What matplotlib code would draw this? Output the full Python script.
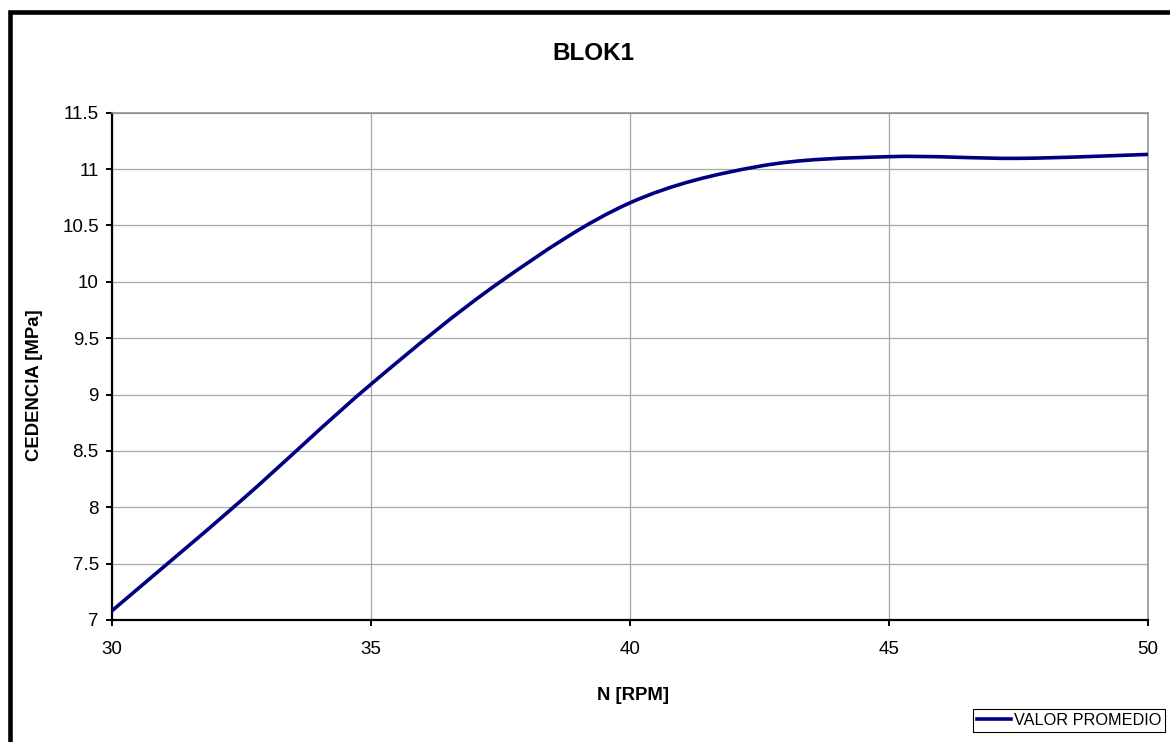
import matplotlib
matplotlib.use('Agg')
import matplotlib.pyplot as plt
import numpy as np
from matplotlib.path import Path
from matplotlib.patches import PathPatch, Rectangle
from matplotlib.lines import Line2D
from matplotlib.ticker import FuncFormatter

plt.rcParams['font.family'] = ['Liberation Sans', 'DejaVu Sans']

# data
rpm = [30, 32.5, 35, 37.5, 40, 42.5, 45, 47.5, 50]
cedencia = [7.08, 8.06, 9.09, 10.0, 10.70, 11.025, 11.11, 11.095, 11.13]
x_ticks = [30, 35, 40, 45, 50]
y_ticks = [7, 7.5, 8, 8.5, 9, 9.5, 10, 10.5, 11, 11.5]
series_name = 'VALOR PROMEDIO'
line_color = '#000080'


def smooth_path(xs, ys):
    # excel style smoothed line: cubic bezier through every point
    pts = np.column_stack([xs, ys]).astype(float)
    n = len(pts)
    verts = [pts[0]]
    codes = [Path.MOVETO]
    for i in range(n - 1):
        p0 = pts[i - 1] if i > 0 else pts[i]
        p3 = pts[i + 2] if i + 2 < n else pts[i + 1]
        c1 = pts[i] + (pts[i + 1] - p0) / 6
        c2 = pts[i + 1] - (p3 - pts[i]) / 6
        verts += [c1, c2, pts[i + 1]]
        codes += [Path.CURVE4] * 3
    return Path(verts, codes)


W, H = 1170, 742
fig = plt.figure(figsize=(W / 100, H / 100), dpi=100)
ax = fig.add_axes([111.7 / W, 1 - 620 / H, (1148 - 111.7) / W, (620 - 112.7) / H])

ax.add_patch(PathPatch(smooth_path(rpm, cedencia), facecolor='none',
                       edgecolor=line_color, lw=2.6, capstyle='butt', zorder=3))

ax.set_xlim(x_ticks[0], x_ticks[-1])
ax.set_ylim(y_ticks[0], y_ticks[-1])
ax.set_xticks(x_ticks)
ax.set_yticks(y_ticks)
ax.yaxis.set_major_formatter(FuncFormatter(lambda v, p: '%g' % v))
ax.grid(True, color='#a8a8a8', lw=0.9)
ax.set_axisbelow(True)

for s in ['left', 'bottom']:
    ax.spines[s].set_color('black')
    ax.spines[s].set_linewidth(1.6)
for s in ['top', 'right']:
    ax.spines[s].set_color('#8c8c8c')
    ax.spines[s].set_linewidth(1.1)

ax.tick_params(axis='both', direction='out', length=4.3, width=1.4, labelsize=13.5)
ax.tick_params(axis='x', pad=10.5)
ax.tick_params(axis='y', pad=5)

fig.text(593 / W, 1 - 54 / H, 'BLOK1', ha='center', va='center', fontsize=17.5, fontweight='bold')
fig.text(35 / W, 1 - 385 / H, 'CEDENCIA [MPa]', ha='center', va='center', rotation=90,
         fontsize=13.3, fontweight='bold')
fig.text(633 / W, 1 - 695 / H, 'N [RPM]', ha='center', va='center', fontsize=13.3, fontweight='bold')

handle = Line2D([], [], color=line_color, lw=2.6)
leg = fig.legend([handle], [series_name], loc='lower right',
                 bbox_to_anchor=(1165 / W, 1 - 732 / H), fontsize=11.7, frameon=True,
                 fancybox=False, framealpha=1, edgecolor='black', borderpad=0.25,
                 handlelength=2.1, handletextpad=0.15, borderaxespad=0)
leg.get_frame().set_linewidth(0.8)

# chart border, cut off at right and bottom like the screenshot
fig.patches.append(Rectangle((9.8 / W, -0.1), 1.2, 1.1 - 12 / H, transform=fig.transFigure,
                             fill=False, edgecolor='black', lw=3.3, zorder=0))

fig.savefig('out.png', dpi=100)
